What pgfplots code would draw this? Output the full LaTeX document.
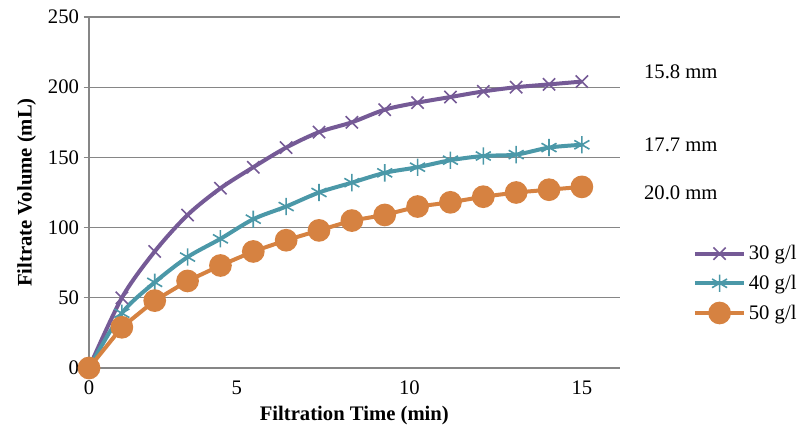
\documentclass[border=0pt]{standalone}
\usepackage{pgfplots}
\pgfplotsset{compat=1.18}
\usepackage{fontspec}
\setmainfont{Liberation Serif}
\definecolor{cp}{RGB}{117,90,150}
\definecolor{ct}{RGB}{75,152,168}
\definecolor{co}{RGB}{214,130,65}
\definecolor{gr}{RGB}{134,134,134}
\begin{document}
\begin{tikzpicture}
\useasboundingbox (-66.75pt,-54.75pt) rectangle (533.25pt,276pt);
\begin{axis}[at={(0,0)},anchor=origin,scale only axis,width=398pt,height=263.25pt,
 xmin=0,xmax=16.15,ymin=0,ymax=250,clip=false,
 axis x line*=bottom, axis y line*=left, axis line style={gr,thick},
 xtick={0,4.5,9.75,15},xticklabels={0,5,10,15},
 minor xtick={1,...,15}, xtick style={draw=none}, minor tick length=4pt,
 minor tick style={gr,thick}, every minor tick/.style={yshift=-2pt},
 ytick={0,50,...,250}, ymajorgrids, grid style={gr,thick}, ytick style={gr,thick}, tick align=outside, major tick length=4pt,
 /pgf/number format/assume math mode=true,
 tick label style={font=\fontsize{15.5}{17}\selectfont},
 xticklabel style={yshift=-2pt},
 xlabel={\textbf{Filtration Time (min)}}, ylabel={\textbf{Filtrate Volume (mL)}},
 label style={font=\fontsize{15.5}{17}\selectfont},
 xlabel style={yshift=-2pt}, ylabel style={yshift=2pt},
 legend style={at={(1.13,0.365)},anchor=north west,draw=none,fill=none,font=\fontsize{15.5}{17}\selectfont,row sep=6pt},
 legend image code/.code={\draw[mark repeat=2,mark phase=2] plot coordinates{(0cm,0cm)(0.65cm,0cm)(1.3cm,0cm)};},
 legend cell align=left,
]
\addplot[cp,line width=3pt,smooth,mark=x,mark size=6.5pt,mark options={line width=1.2pt}] coordinates {(0,0)(1,50)(2,83)(3,109)(4,128)(5,143)(6,157)(7,168)(8,175)(9,184)(10,189)(11,193)(12,197)(13,200)(14,202)(15,204)};
\addlegendentry{30 g/l}
\addplot[ct,line width=3pt,smooth,mark=asterisk,mark size=6.5pt,mark options={line width=1.2pt}] coordinates {(0,0)(1,39)(2,61)(3,79)(4,92)(5,106)(6,115)(7,125)(8,132)(9,139)(10,143)(11,148)(12,151)(13,152)(14,157)(15,159)};
\addlegendentry{40 g/l}
\addplot[co,line width=3pt,mark=*,mark size=7pt] coordinates {(0,0)(1,29)(2,48)(3,62)(4,73)(5,83)(6,91)(7,98)(8,105)(9,109)(10,115)(11,118)(12,122)(13,125)(14,127)(15,129)};
\addlegendentry{50 g/l}
\node[anchor=west,font=\fontsize{15.5}{17}\selectfont] at (axis cs:16.75,211) {15.8 mm};
\node[anchor=west,font=\fontsize{15.5}{17}\selectfont] at (axis cs:16.75,159) {17.7 mm};
\node[anchor=west,font=\fontsize{15.5}{17}\selectfont] at (axis cs:16.75,125) {20.0 mm};
\end{axis}
\end{tikzpicture}
\end{document}
